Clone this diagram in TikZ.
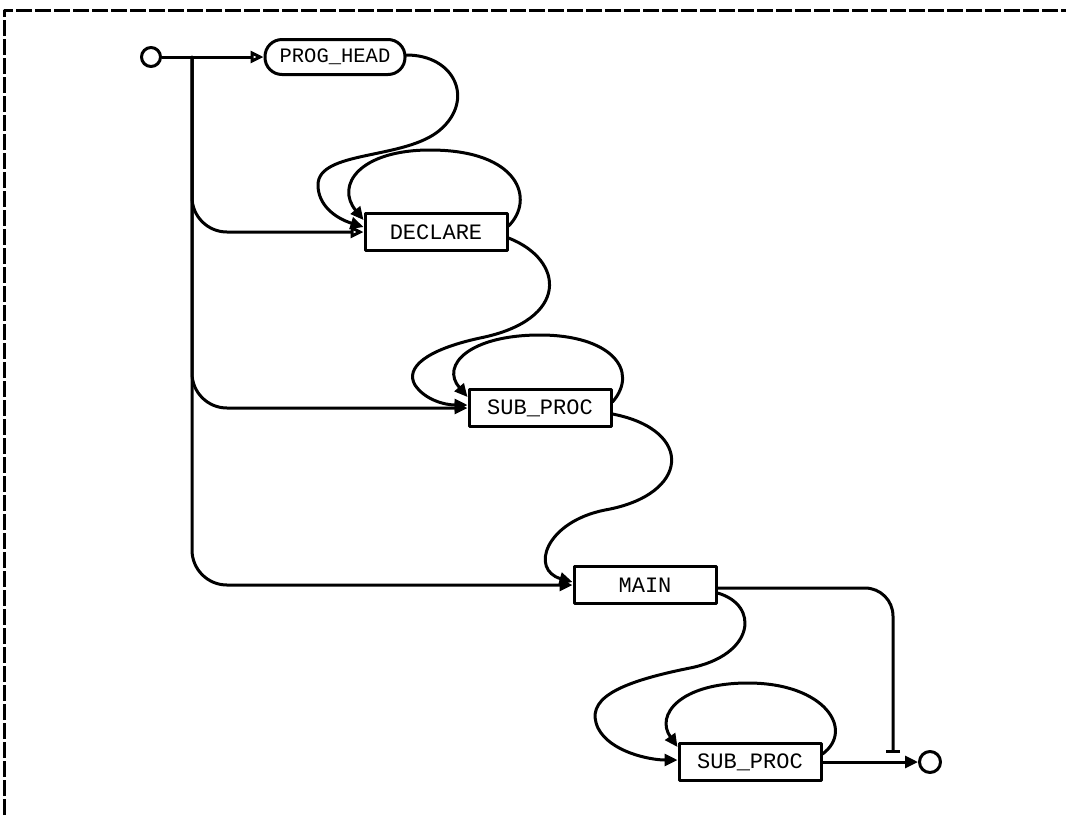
\documentclass[tikz,border=0pt]{standalone}
\usepackage{fontspec}
\setmonofont{Liberation Mono}
\usetikzlibrary{arrows.meta,calc}
\begin{document}
\begin{tikzpicture}[x=1pt,y=-1pt,line width=3pt,line cap=round,line join=round,
  box/.style={draw,line width=3pt,minimum width=142pt,minimum height=37pt,inner sep=0pt,
    font=\ttfamily\fontsize{22}{26}\selectfont},
  headbox/.style={box,rounded corners=17pt,minimum height=35pt,minimum width=140pt,
    font=\ttfamily\fontsize{20.5}{24}\selectfont},
  term/.style={draw,circle,line width=3pt,minimum size=19pt,inner sep=0pt},
  arr/.style={-{Triangle[length=13pt,width=12pt]}},
  oarr/.style={-{Triangle[open,length=13pt,width=12pt]}},
  frame/.style={line width=3pt,dash pattern=on 16pt off 3pt,line cap=butt}]
\useasboundingbox (0,0) rectangle (1066,815);
% frame
\draw[frame] (4,815) -- (4,10) -- (1066,10);
% nodes
\node[term] (start) at (151,57) {};
\node[headbox] (ph) at (335,57) {PROG\_HEAD};
\node[box] (decl) at (436,232) {DECLARE};
\node[box] (sp1) at (540,408) {SUB\_PROC};
\node[box] (main) at (645,585) {MAIN};
\node[box] (sp2) at (750,762) {SUB\_PROC};
\node[term,minimum size=21pt] (stop) at (930,762) {};
\coordinate (j0) at (192,57);
\coordinate (bar) at (893,753);
% start to PROG_HEAD
\draw[oarr] (start) -- (ph.west);
% trunk branches
\draw[oarr,rounded corners=35pt] (j0) |- (decl.west);
\draw[arr,rounded corners=35pt] (j0) |- (sp1.west);
\draw[arr,rounded corners=35pt] (j0) |- (main.west);
% PROG_HEAD -> DECLARE
\draw[arr] ([yshift=2pt]ph.east) .. controls (455,55) and (475,100) .. (440,130)
  .. controls (405,160) and (318,150) .. (318,185)
  .. controls (318,205) and (335,218) .. ([yshift=5pt]decl.west);
% DECLARE self loop
\draw[arr] ([yshift=6pt]decl.east) .. controls (535,200) and (520,150) .. (430,150)
  .. controls (360,150) and (335,185) .. ([yshift=12pt]decl.west);
% DECLARE -> SUB_PROC
\draw[arr] ([yshift=-6pt]decl.east) .. controls (565,260) and (570,320) .. (480,338)
  .. controls (425,350) and (405,368) .. (415,385)
  .. controls (425,400) and (445,405) .. ([yshift=3pt]sp1.west);
% SUB_PROC self loop
\draw[arr] ([yshift=6pt]sp1.east) .. controls (640,370) and (610,335) .. (540,335)
  .. controls (470,335) and (440,365) .. ([yshift=11pt]sp1.west);
% SUB_PROC -> MAIN
\draw[arr] ([yshift=-6pt]sp1.east) .. controls (695,430) and (690,495) .. (605,510)
  .. controls (545,522) and (530,570) .. ([yshift=3pt]main.west);
% MAIN -> exit (bar)
\draw[-{Bar[width=14pt]},rounded corners=28pt] ([yshift=-3pt]main.east) -| (bar);
% MAIN -> SUB_PROC
\draw[arr] ([yshift=-8pt]main.east) .. controls (760,605) and (755,655) .. (690,668)
  .. controls (615,683) and (585,700) .. (598,728)
  .. controls (610,752) and (650,760) .. ([yshift=2pt]sp2.west);
% SUB_PROC self loop
\draw[arr] ([yshift=8pt]sp2.east) .. controls (855,730) and (825,683) .. (748,683)
  .. controls (680,683) and (655,715) .. ([yshift=15pt]sp2.west);
% SUB_PROC -> stop
\draw[arr] (sp2.east) -- (stop.west);
\end{tikzpicture}
\end{document}
